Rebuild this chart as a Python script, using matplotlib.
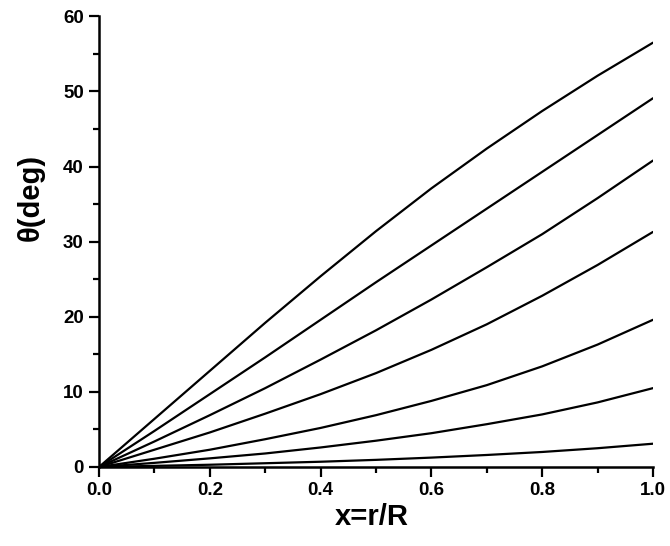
import matplotlib
matplotlib.use("Agg")
import matplotlib.pyplot as plt
from matplotlib.ticker import MultipleLocator, FormatStrFormatter

# radial position x = r/R
x = [0.0, 0.1, 0.2, 0.3, 0.4, 0.5, 0.6, 0.7, 0.8, 0.9, 1.0]

# tilt angle theta (deg) for each curve, top to bottom
theta_1 = [0, 6.4, 12.8, 19.2, 25.4, 31.4, 37.1, 42.4, 47.4, 52.1, 56.5]
theta_2 = [0, 4.8, 9.7, 14.6, 19.6, 24.6, 29.5, 34.4, 39.3, 44.2, 49.1]
theta_3 = [0, 3.4, 6.9, 10.5, 14.3, 18.2, 22.3, 26.6, 31.0, 35.8, 40.8]
theta_4 = [0, 2.3, 4.6, 7.1, 9.7, 12.5, 15.6, 19.0, 22.8, 26.9, 31.3]
theta_5 = [0, 1.1, 2.3, 3.7, 5.2, 6.9, 8.8, 10.9, 13.4, 16.3, 19.6]
theta_6 = [0, 0.55, 1.15, 1.8, 2.6, 3.5, 4.5, 5.7, 7.0, 8.6, 10.5]
theta_7 = [0, 0.15, 0.3, 0.5, 0.7, 0.95, 1.25, 1.6, 2.0, 2.5, 3.1]

curves = [theta_1, theta_2, theta_3, theta_4, theta_5, theta_6, theta_7]

plt.rcParams['font.family'] = ['Liberation Sans', 'DejaVu Sans']
plt.rcParams['font.weight'] = 'bold'

fig = plt.figure(figsize=(6.7, 5.46), dpi=100)
ax = fig.add_axes([0.1478, 0.1447, 0.8268, 0.8253])

for th in curves:
    ax.plot(x, th, color='black', linewidth=1.6,
            solid_joinstyle='round', solid_capstyle='round')

ax.set_xlim(0, 1.0)
ax.set_ylim(0, 60)

ax.xaxis.set_major_locator(MultipleLocator(0.2))
ax.xaxis.set_minor_locator(MultipleLocator(0.1))
ax.yaxis.set_major_locator(MultipleLocator(10))
ax.yaxis.set_minor_locator(MultipleLocator(5))
ax.xaxis.set_major_formatter(FormatStrFormatter('%.1f'))

for side in ('top', 'right'):
    ax.spines[side].set_visible(False)
for side in ('left', 'bottom'):
    ax.spines[side].set_linewidth(1.8)

ax.tick_params(which='major', direction='out', length=7, width=1.6,
               labelsize=13.5, pad=4)
ax.tick_params(which='minor', direction='out', length=4, width=1.6)
for lbl in ax.get_xticklabels() + ax.get_yticklabels():
    lbl.set_fontweight('bold')

# axis titles
fig.text(372 / 670, 1 - 517 / 546, 'x=r/R', fontsize=21, fontweight='bold',
         ha='center', va='center')
fig.text(31 / 670, 1 - 197 / 546, 'θ(deg)', fontsize=21, fontweight='bold',
         ha='center', va='center', rotation=90)

fig.savefig('out.png', dpi=100)
